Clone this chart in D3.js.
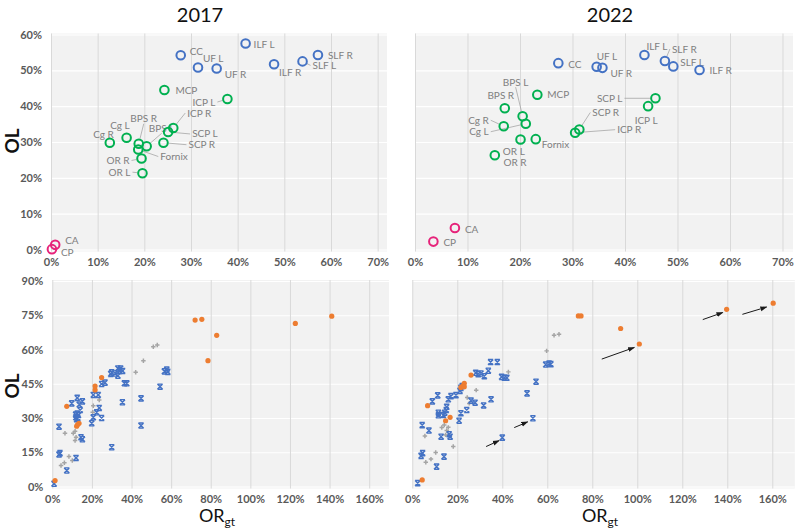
<!DOCTYPE html>
<meta charset="utf-8">
<script src="https://d3js.org/d3.v7.min.js"></script>
<style>
  body { margin: 0; background: #fff; }
  text { font-family: Lato, "Noto Sans", sans-serif; }
</style>
<div id="chart"></div>
<script>
// ---- top panels: tract names, OR (x, %) and OL (y, %) ----
var tracts = ["CC", "UF L", "UF R", "ILF L", "ILF R", "SLF L", "SLF R",
    "ICP L", "MCP", "ICP R", "SCP L", "SCP R", "Fornix", "BPS R", "BPS L",
    "Cg R", "Cg L", "OR R", "OR L", "CA", "CP"];
var tractGroup = ["b", "b", "b", "b", "b", "b", "b",
    "g", "g", "g", "g", "g", "g", "g", "g", "g", "g", "g", "g", "p", "p"];
var or2017 = [27.8, 31.5, 35.5, 41.7, 47.8, 53.9, 57.2,
    37.8, 24.3, 26.2, 25.1, 24.1, 18.7, 18.8, 20.5, 12.6, 16.2, 19.4, 19.6, 0.9, 0.2];
var ol2017 = [54.2, 50.8, 50.5, 57.5, 51.7, 52.5, 54.3,
    42.0, 44.5, 33.9, 32.8, 29.8, 27.9, 29.5, 28.8, 29.8, 31.2, 25.4, 21.3, 1.3, 0.1];
var or2022 = [27.3, 34.6, 35.7, 43.7, 54.2, 49.2, 47.6,
    44.4, 23.3, 30.5, 45.8, 31.3, 23.0, 17.1, 20.5, 16.9, 21.1, 20.1, 15.2, 7.6, 3.5];
var ol2022 = [52.0, 51.0, 50.7, 54.3, 50.1, 51.1, 52.6,
    40.0, 43.2, 32.6, 42.2, 33.5, 30.8, 39.4, 37.2, 34.4, 35.1, 30.7, 26.3, 6.0, 2.2];

// ---- bottom panels: [ORgt %, OL %] ----
var blue2017 = [[0.9,1.2],[3.4,14.0],[3.9,14.6],[7.3,7.0],[12.0,12.5],[3.4,26.2],[9.8,36.4],[12.6,38.8],
    [15.2,37.3],[13.6,35.9],[14.1,33.5],[11.8,31.5],[12.6,32.0],[13.2,31.3],[11.9,30.3],[12.9,30.0],
    [12.3,29.5],[14.5,21.6],[15.2,20.7],[19.9,27.7],[20.7,30.3],[20.7,40.1],[23.2,40.1],[22.4,32.5],
    [23.7,34.4],[24.9,30.0],[24.9,44.9],[26.6,45.5],[30.0,17.2],[29.5,49.3],[31.7,49.5],[30.0,50.0],
    [33.1,51.7],[34.5,51.7],[35.5,50.6],[34.0,50.6],[33.1,48.5],[36.4,45.2],[37.6,45.2],[35.4,36.9],
    [44.8,38.6],[44.8,26.7],[54.4,43.7],[56.6,50.4],[57.8,51.2],[58.3,50.2]];
var grey2017 = [[4.4,9.2],[6.1,10.4],[8.4,13.1],[10.1,11.4],[6.4,23.3],[10.6,23.3],[11.5,24.2],[11.5,20.1],
    [12.0,21.6],[20.4,32.5],[20.7,35.4],[23.7,37.9],[42.1,50.0],[46.0,55.1],[51.0,61.2],[53.0,62.0]];
var orange2017 = [[1.4,2.6],[7.3,35.1],[12.3,26.4],[12.8,27.1],[13.5,27.7],[21.6,42.3],[21.6,44.0],[24.9,47.7],
    [72.1,72.9],[75.5,73.2],[83.0,66.2],[78.6,55.1],[122.7,71.4],[141.1,74.6]];

var blue2022 = [[2.4,1.5],[3.9,13.4],[4.6,14.6],[10.8,8.7],[14.1,13.1],[4.4,26.9],[7.4,24.5],[8.9,37.3],
    [11.3,39.9],[11.6,32.3],[11.6,31.2],[12.8,21.8],[13.8,31.3],[14.4,32.3],[15.1,33.5],[15.3,34.9],
    [16.0,38.2],[17.2,39.6],[16.4,22.9],[16.8,21.8],[19.4,40.0],[20.8,28.8],[21.2,41.9],[21.6,43.2],
    [22.2,44.0],[21.6,32.1],[24.2,33.5],[26.1,37.6],[27.9,36.7],[28.2,49.8],[29.3,49.2],[30.5,49.5],
    [32.0,48.3],[33.8,50.7],[31.7,35.5],[34.8,54.5],[37.8,54.5],[35.0,38.2],[39.7,48.0],[40.9,47.6],
    [42.0,47.6],[40.0,21.4],[51.0,40.8],[53.6,29.9],[55.0,45.9],[59.3,53.4],[60.8,53.9],[61.6,53.6]];
var grey2022 = [[6.0,10.6],[8.3,12.0],[10.4,14.9],[5.6,22.1],[13.1,25.8],[14.2,26.9],[15.3,24.5],[14.8,22.6],
    [16.0,25.9],[18.2,17.5],[24.4,39.0],[25.3,36.4],[28.4,42.2],[42.7,50.2],[59.7,59.4],[63.0,66.2],[65.2,66.7]];
var orange2022 = [[4.4,2.9],[6.8,35.4],[14.8,28.8],[16.8,30.3],[21.6,43.4],[22.4,44.0],[23.1,45.2],[23.1,43.7],
    [26.1,48.8],[73.8,74.7],[75.0,74.7],[92.6,69.2],[100.9,62.4],[139.7,77.6],[160.4,80.3]];
// arrows in the 2022 panel: [x1, y1, x2, y2]
var arrows2022 = [[32.8,17.5,38.6,20.1],[45.3,25.8,51.3,28.3],[84.2,55.8,98.7,60.9],
    [129.1,73.1,138.0,76.2],[146.7,75.4,157.5,78.6]];

var topXTicks = [0, 10, 20, 30, 40, 50, 60, 70];
var topYTicks = [0, 10, 20, 30, 40, 50, 60];
var botXTicks = [0, 20, 40, 60, 80, 100, 120, 140, 160];
var botYTicks = [0, 15, 30, 45, 60, 75, 90];

// label placement for the tract names (pixel offsets, anchor, leader line)
var lab2017 = {
    "CC": [9, -4, "start"], "UF L": [5, -9, "start"], "UF R": [8, 6, "start"],
    "ILF L": [8, 1, "start"], "ILF R": [5, 8, "start"], "SLF L": [10, 4, "start", 1],
    "SLF R": [10, 1, "start"], "ICP L": [-12, 3, "end", 1], "MCP": [11, 0, "start"],
    "ICP R": [14, -15, "start", 1], "SCP L": [24, 2, "start", 1], "SCP R": [25, 2, "start", 1],
    "Fornix": [22, 7, "start", 1], "BPS R": [5, -25, "middle", 1], "BPS L": [15, -18, "middle", 1],
    "Cg R": [4, -8, "end"], "Cg L": [3, -12, "end"], "OR R": [-12, 2, "end", 1],
    "OR L": [-12, -1, "end", 1], "CA": [10, -4, "start"], "CP": [9, 3, "start"]
};
var lab2022 = {
    "CC": [10, 1, "start"], "UF L": [0, -10, "start"], "UF R": [8, 6, "start"],
    "ILF L": [2, -8, "start"], "SLF R": [7, -12, "start", 1], "SLF L": [7, -4, "start"],
    "ILF R": [10, 1, "start"], "SCP L": [-33, 0, "end", 1], "ICP L": [-2, 14, "middle"],
    "SCP R": [13, -17, "start", 1], "ICP R": [42, -3, "start", 1], "MCP": [10, 0, "start"],
    "BPS R": [-4, -13, "middle"], "BPS L": [-7, -34, "middle", 1], "Cg R": [-15, -6, "end", 1],
    "Cg L": [-37, 8, "end", 1], "OR L": [8, -4, "start"], "OR R": [-17, 23, "start"],
    "Fornix": [6, 5, "start"], "CA": [10, 1, "start"], "CP": [10, 1, "start"]
};

var colors = { b: "#4472C4", g: "#00B050", p: "#E6237A" };
var tickColor = "#595959";

var svg = d3.select("#chart").append("svg")
    .attr("width", 798).attr("height", 532);

svg.append("defs").append("marker")
    .attr("id", "arr").attr("viewBox", "0 0 10 10")
    .attr("refX", 9).attr("refY", 5)
    .attr("markerWidth", 7).attr("markerHeight", 7)
    .attr("orient", "auto")
    .append("path").attr("d", "M0,1.5 L10,5 L0,8.5 Z").attr("fill", "#1a1a1a");

// titles
svg.append("text").attr("x", 200).attr("y", 22).attr("text-anchor", "middle")
    .attr("font-size", 20).attr("fill", "#111").text("2017");
svg.append("text").attr("x", 610).attr("y", 22).attr("text-anchor", "middle")
    .attr("font-size", 20).attr("fill", "#111").text("2022");

// axis titles
[141, 386].forEach(function (cy) {
    svg.append("text").attr("transform", "translate(19," + cy + ") rotate(-90)")
        .attr("text-anchor", "middle").attr("font-size", 19).attr("font-weight", "bold")
        .attr("fill", "#111").text("OL");
});
[220, 603].forEach(function (cx) {
    var t = svg.append("text").attr("x", cx - 3).attr("y", 522).attr("text-anchor", "middle")
        .attr("font-size", 18).attr("fill", "#111");
    t.append("tspan").text("OR");
    t.append("tspan").attr("font-size", 12).attr("dy", 4).text("gt");
});

function panel(cfg) {
    var x = d3.scaleLinear().domain([0, cfg.xMax]).range([cfg.x0, cfg.x1]);
    var y = d3.scaleLinear().domain([0, cfg.yMax]).range([cfg.yBot, cfg.yTop]);
    var g = svg.append("g");

    g.append("rect").attr("x", cfg.x0).attr("y", cfg.yTop - 1)
        .attr("width", cfg.x1 - cfg.x0).attr("height", cfg.yBot - cfg.yTop + 3)
        .attr("fill", "#F2F2F2");

    // horizontal gridlines (white)
    g.append("g").attr("transform", "translate(" + cfg.x0 + ",0)")
        .call(d3.axisLeft(y).tickValues(cfg.yTicks).tickSize(-(cfg.x1 - cfg.x0)).tickFormat(""))
        .call(function (s) {
            s.select(".domain").remove();
            s.selectAll("line").attr("stroke", "#ffffff").attr("stroke-width", 1.2);
        });
    // vertical gridlines (grey)
    g.append("g").attr("transform", "translate(0," + (cfg.yBot + 2) + ")")
        .call(d3.axisBottom(x).tickValues(cfg.xTicks).tickSize(-(cfg.yBot - cfg.yTop + 3)).tickFormat(""))
        .call(function (s) {
            s.select(".domain").remove();
            s.selectAll("line").attr("stroke", "#D9D9D9").attr("stroke-width", 1);
        });

    // tick labels
    g.append("g").attr("transform", "translate(0," + cfg.yBot + ")")
        .call(d3.axisBottom(x).tickValues(cfg.xTicks).tickSize(0).tickPadding(cfg.xPad)
            .tickFormat(function (d) { return d + "%"; }))
        .call(function (s) {
            s.select(".domain").remove();
            s.selectAll("text").attr("font-size", 11).attr("font-weight", "bold")
                .attr("fill", tickColor).attr("font-family", "Lato, 'Noto Sans', sans-serif");
        });
    if (cfg.showY) {
        g.append("g").attr("transform", "translate(" + cfg.x0 + ",0)")
            .call(d3.axisLeft(y).tickValues(cfg.yTicks).tickSize(0).tickPadding(9)
                .tickFormat(function (d) { return d + "%"; }))
            .call(function (s) {
                s.select(".domain").remove();
                s.selectAll("text").attr("font-size", 11).attr("font-weight", "bold")
                    .attr("fill", tickColor).attr("font-family", "Lato, 'Noto Sans', sans-serif");
            });
    }
    return { g: g, x: x, y: y };
}

function topPanel(cfg, xs, ys, labs) {
    var p = panel(cfg);
    var pts = tracts.map(function (n, i) {
        return { name: n, grp: tractGroup[i], cx: p.x(xs[i]), cy: p.y(ys[i]), lab: labs[n] };
    });
    // leader lines
    pts.filter(function (d) { return d.lab[3]; }).forEach(function (d) {
        var lx = d.cx + d.lab[0], ly = d.cy + d.lab[1];
        var ex = d.lab[2] === "start" ? lx - 2 : d.lab[2] === "end" ? lx + 2 : lx;
        var ey = d.lab[2] === "middle" ? ly + (d.lab[1] < 0 ? 5 : -5) : ly;
        var dx = ex - d.cx, dy = ey - d.cy, len = Math.sqrt(dx * dx + dy * dy);
        p.g.append("line")
            .attr("x1", d.cx + dx / len * 5).attr("y1", d.cy + dy / len * 5)
            .attr("x2", ex).attr("y2", ey)
            .attr("stroke", "#A6A6A6").attr("stroke-width", 0.8);
    });
    p.g.selectAll(".lab").data(pts).enter().append("text")
        .attr("x", function (d) { return d.cx + d.lab[0]; })
        .attr("y", function (d) { return d.cy + d.lab[1]; })
        .attr("dy", "0.35em")
        .attr("text-anchor", function (d) { return d.lab[2]; })
        .attr("font-size", 10).attr("fill", "#7F7F7F")
        .text(function (d) { return d.name; });
    p.g.selectAll(".pt").data(pts).enter().append("circle")
        .attr("cx", function (d) { return d.cx; })
        .attr("cy", function (d) { return d.cy; })
        .attr("r", 4.3).attr("fill", "none")
        .attr("stroke", function (d) { return colors[d.grp]; })
        .attr("stroke-width", 2);
}

function bottomPanel(cfg, blue, grey, orange, arrows) {
    var p = panel(cfg);
    p.g.selectAll(".gr").data(grey).enter().append("path")
        .attr("transform", function (d) { return "translate(" + p.x(d[0]) + "," + p.y(d[1]) + ")"; })
        .attr("d", d3.symbol().type(d3.symbolCross).size(11))
        .attr("fill", "#A5A5A5");
    p.g.selectAll(".bl").data(blue).enter().append("path")
        .attr("transform", function (d) { return "translate(" + p.x(d[0]) + "," + p.y(d[1]) + ")"; })
        .attr("d", "M-2.6,-2.6H2.6M-2.6,2.6H2.6M-2.6,-2.6L2.6,2.6M2.6,-2.6L-2.6,2.6")
        .attr("fill", "none").attr("stroke", "#4472C4").attr("stroke-width", 1.4);
    p.g.selectAll(".or").data(orange).enter().append("circle")
        .attr("cx", function (d) { return p.x(d[0]); })
        .attr("cy", function (d) { return p.y(d[1]); })
        .attr("r", 2.6).attr("fill", "#ED7D31");
    p.g.selectAll(".ar").data(arrows).enter().append("line")
        .attr("x1", function (d) { return p.x(d[0]); })
        .attr("y1", function (d) { return p.y(d[1]); })
        .attr("x2", function (d) { return p.x(d[2]); })
        .attr("y2", function (d) { return p.y(d[3]); })
        .attr("stroke", "#1a1a1a").attr("stroke-width", 1)
        .attr("marker-end", "url(#arr)");
}

topPanel({ x0: 51, x1: 387, yTop: 34.5, yBot: 249.5, xMax: 72, yMax: 60,
    xTicks: topXTicks, yTicks: topYTicks, showY: true, xPad: 9 }, or2017, ol2017, lab2017);
topPanel({ x0: 415, x1: 793, yTop: 34.5, yBot: 249.5, xMax: 72, yMax: 60,
    xTicks: topXTicks, yTicks: topYTicks, showY: false, xPad: 9 }, or2022, ol2022, lab2022);
bottomPanel({ x0: 52.3, x1: 389, yTop: 281, yBot: 486.5, xMax: 170, yMax: 90,
    xTicks: botXTicks, yTicks: botYTicks, showY: true, xPad: 9 }, blue2017, grey2017, orange2017, []);
bottomPanel({ x0: 412.3, x1: 794.8, yTop: 281, yBot: 486.5, xMax: 170, yMax: 90,
    xTicks: botXTicks, yTicks: botYTicks, showY: false, xPad: 9 }, blue2022, grey2022, orange2022, arrows2022);
</script>
